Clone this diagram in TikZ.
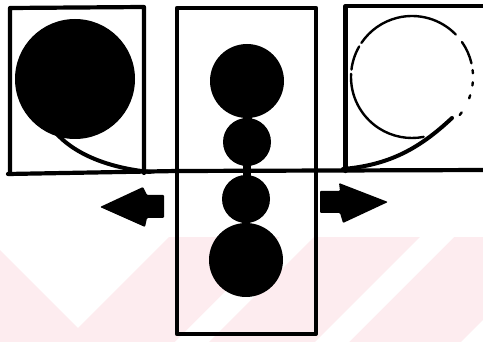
\documentclass[tikz,border=0pt]{standalone}
\usetikzlibrary{calc}
\definecolor{wmpink}{HTML}{FDECEF}
\begin{document}
\begin{tikzpicture}[x=1pt,y=-1pt,
  frame/.style={line width=4.2pt, line cap=round, line join=round},
  tailline/.style={line width=4pt, line cap=round},
  ringline/.style={line width=2.4pt, line cap=round},
  blob/.style={fill=black},
  blockarrow/.style={fill=black, rounded corners=1pt}]
\useasboundingbox (0,0) rectangle (483,342);
% faint watermark band
\begin{scope}
  \clip (0,237) rectangle (483,342);
  \fill[wmpink] (0,237) rectangle (483,342);
  \fill[white] (-13,237) -- (78,328) -- (169,237) -- cycle;
  \foreach \a in {175,315,461}{
    \fill[white] (\a,342) -- (\a+34,342) -- (\a+139,237) -- (\a+105,237) -- cycle;
  }
\end{scope}
% frames
\coordinate (lbl) at (10,174);
\coordinate (ltl) at (10,8);
\coordinate (ltr) at (144,7);
\coordinate (lbr) at (144,173);
\draw[frame] (lbl) -- (ltl) -- (ltr) -- (lbr);
\coordinate (hl) at (8,174);
\coordinate (hm) at (177,171);
\coordinate (hr) at (490,170);
\draw[frame] (hl) -- (hm) -- (hr);
\coordinate (mtl) at (177,8);
\coordinate (mbr) at (316,334);
\draw[frame] (mtl) rectangle (mbr);
\coordinate (rbl) at (345.5,171);
\coordinate (rtl) at (345.5,6);
\coordinate (rtr) at (490,6);
\draw[frame] (rbl) -- (rtl) -- (rtr);
% left: filled disc with tail
\coordinate (lc) at (75,79);
\fill[blob] (lc) circle[radius=60pt];
\coordinate (lt0) at (55,132);
\coordinate (lt1) at (150,172);
\draw[tailline] (lt0) .. controls (75,155) and (110,168) .. (lt1);
% middle: chain of discs
\coordinate (m1) at (247,81);
\coordinate (m2) at (247,142);
\coordinate (m3) at (246,199);
\coordinate (m4) at (246,260);
\fill[blob] (m1) circle[radius=37pt];
\fill[blob] (m2) circle[radius=24pt];
\fill[blob] (m3) circle[radius=24pt];
\fill[blob] (m4) circle[radius=37pt];
\fill[blob] (243,112) rectangle (252,124);
\fill[blob] (243,162) rectangle (251,180);
\fill[blob] (242,218) rectangle (250,229);
% right: broken ring with tail
\coordinate (rc) at (412,77);
\draw[ringline] ($(rc)+(44:61pt)$) arc[start angle=44,end angle=146,radius=61pt];
\draw[ringline] ($(rc)+(150:61pt)$) arc[start angle=150,end angle=173,radius=61pt];
\draw[ringline] ($(rc)+(177:61pt)$) arc[start angle=177,end angle=281,radius=61pt];
\draw[ringline] ($(rc)+(13:61pt)$) arc[start angle=13,end angle=35,radius=61pt];
\foreach \t in {5,-6.5,-19,-37}{
  \draw[ringline] ($(rc)+(\t+1.5:61pt)$) arc[start angle=\t+1.5,end angle=\t-1.5,radius=61pt];
}
\coordinate (rt0) at (452,118);
\coordinate (rt1) at (343,169);
\draw[tailline] (rt0) .. controls (420,148) and (390,165) .. (rt1);
% block arrows
\fill[blockarrow] (100,207) -- (143,187) -- (147,195) -- (164,195) -- (164,218) -- (147,218) -- (145,227) -- cycle;
\fill[blockarrow] (320,191) -- (340,191) -- (339,183) -- (388,202) -- (343,223) -- (340,213) -- (320,213) -- cycle;
\end{tikzpicture}
\end{document}
